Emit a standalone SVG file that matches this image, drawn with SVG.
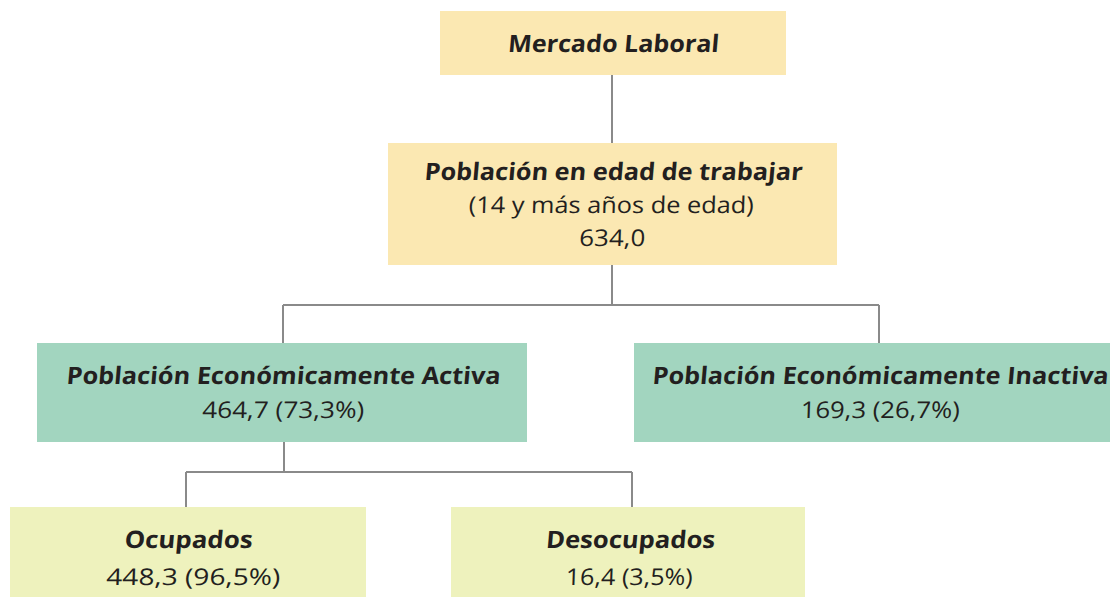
<svg xmlns="http://www.w3.org/2000/svg" width="1110" height="597" viewBox="0 0 1110 597">
<style>
.t{font-family:"Open Sans","Liberation Sans",sans-serif;fill:#231f20;text-anchor:middle}
.b{font-weight:700;font-size:24px}
.r{font-weight:400;font-size:23px}
.y{fill:#fbe8b2}
.g{fill:#a2d5bf}
.l{fill:#eef2bd}
.c{fill:none;stroke:#8a8a8a;stroke-width:2}
</style>
<rect width="1110" height="597" fill="#ffffff"/>
<g id="connectors">
<path class="c" d="M612 75V143"/>
<path class="c" d="M612 265V305M283 305H879M283 305V343M879 305V343"/>
<path class="c" d="M284 442V472M186 472H632M186 472V507M632 472V507"/>
</g>
<g id="mercado">
<rect class="y" x="440" y="11" width="346" height="64"/>
<text class="t b" transform="translate(613,52) skewX(-5)" textLength="211" lengthAdjust="spacingAndGlyphs">Mercado Laboral</text>
</g>
<g id="pet">
<rect class="y" x="388" y="143" width="449" height="122"/>
<text class="t b" transform="translate(613,180) skewX(-5)" textLength="378" lengthAdjust="spacingAndGlyphs">Población en edad de trabajar</text>
<text class="t r" transform="translate(611,213) skewX(-2)" textLength="285" lengthAdjust="spacingAndGlyphs">(14 y más años de edad)</text>
<text class="t r" transform="translate(612,246) skewX(-2)" textLength="66" lengthAdjust="spacingAndGlyphs">634,0</text>
</g>
<g id="pea">
<rect class="g" x="37" y="343" width="490" height="99"/>
<text class="t b" transform="translate(283,384) skewX(-5)" textLength="434" lengthAdjust="spacingAndGlyphs">Población Económicamente Activa</text>
<text class="t r" transform="translate(283,418) skewX(-2)" textLength="162" lengthAdjust="spacingAndGlyphs">464,7 (73,3%)</text>
</g>
<g id="pei">
<rect class="g" x="634" y="343" width="476" height="99"/>
<text class="t b" transform="translate(880,384) skewX(-5)" textLength="456" lengthAdjust="spacingAndGlyphs">Población Económicamente Inactiva</text>
<text class="t r" transform="translate(880,418) skewX(-2)" textLength="159" lengthAdjust="spacingAndGlyphs">169,3 (26,7%)</text>
</g>
<g id="ocupados">
<rect class="l" x="10" y="507" width="356" height="90"/>
<text class="t b" transform="translate(188,548) skewX(-5)" textLength="128" lengthAdjust="spacingAndGlyphs">Ocupados</text>
<text class="t r" transform="translate(193,585) skewX(-2)" textLength="174" lengthAdjust="spacingAndGlyphs">448,3 (96,5%)</text>
</g>
<g id="desocupados">
<rect class="l" x="451" y="507" width="354" height="90"/>
<text class="t b" transform="translate(630,548) skewX(-5)" textLength="169" lengthAdjust="spacingAndGlyphs">Desocupados</text>
<text class="t r" transform="translate(629,585) skewX(-2)" textLength="127" lengthAdjust="spacingAndGlyphs">16,4 (3,5%)</text>
</g>
</svg>
